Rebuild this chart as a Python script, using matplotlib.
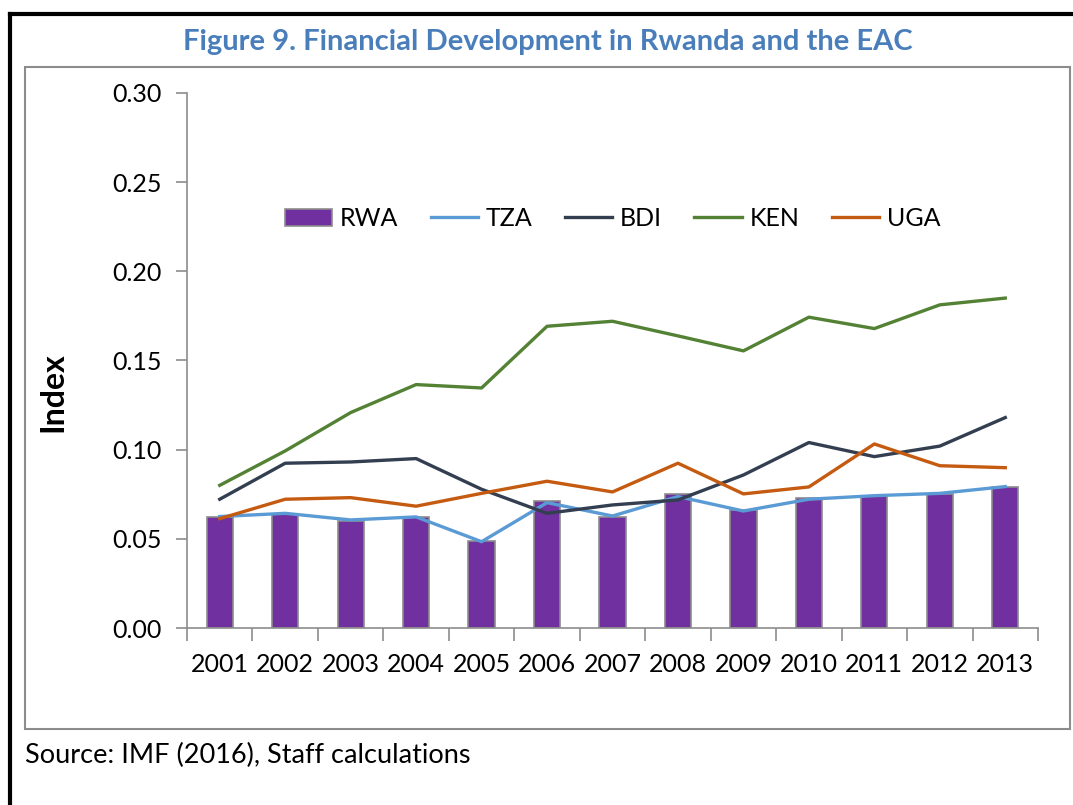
import matplotlib.pyplot as plt
import numpy as np
from matplotlib.patches import Rectangle
from matplotlib.lines import Line2D

plt.rcParams['font.family'] = ['Lato', 'DejaVu Sans']

# Data
years = ['2001', '2002', '2003', '2004', '2005', '2006', '2007',
         '2008', '2009', '2010', '2011', '2012', '2013']
rwa = [0.062, 0.064, 0.060, 0.062, 0.049, 0.071, 0.062, 0.075, 0.066, 0.073, 0.074, 0.075, 0.079]
tza = [0.0625, 0.0643, 0.0606, 0.0623, 0.0484, 0.0703, 0.0628, 0.0737, 0.0656, 0.0722, 0.0742, 0.0755, 0.0793]
bdi = [0.0722, 0.0924, 0.0931, 0.0950, 0.0778, 0.0643, 0.0690, 0.0718, 0.0858, 0.1040, 0.0961, 0.1020, 0.1180]
ken = [0.0800, 0.0993, 0.1208, 0.1365, 0.1346, 0.1692, 0.1720, 0.1638, 0.1554, 0.1743, 0.1679, 0.1812, 0.1850]
uga = [0.0613, 0.0722, 0.0731, 0.0683, 0.0755, 0.0823, 0.0763, 0.0924, 0.0752, 0.0791, 0.1032, 0.0910, 0.0899]

W, H = 1073, 805
fig = plt.figure(figsize=(W / 100, H / 100), dpi=100)

# outer black frame (left + top) and inner grey box
fig.add_artist(Line2D([10 / W, 10 / W], [0, 1 - 14 / H], color='black', lw=3, transform=fig.transFigure))
fig.add_artist(Line2D([10 / W, 1], [1 - 14 / H, 1 - 14 / H], color='black', lw=3, transform=fig.transFigure))
fig.add_artist(Rectangle((25 / W, 1 - 729 / H), (1070 - 25) / W, (729 - 67) / H, fill=False,
                         edgecolor='#8c8c8c', lw=1.5, transform=fig.transFigure))

ax = fig.add_axes([187 / W, 1 - 628 / H, (1038 - 187) / W, (628 - 93) / H])
x = np.arange(len(years))
b = ax.bar(x, rwa, width=0.4, color='#7030A0', edgecolor='#8c8c8c', linewidth=1.2, label='RWA', zorder=2)
l1, = ax.plot(x, tza, color='#5B9BD5', lw=2.4, label='TZA', zorder=3)
l2, = ax.plot(x, bdi, color='#333F50', lw=2.4, label='BDI', zorder=3)
l3, = ax.plot(x, ken, color='#548235', lw=2.4, label='KEN', zorder=3)
l4, = ax.plot(x, uga, color='#C55A11', lw=2.4, label='UGA', zorder=3)

ax.set_xlim(-0.5, len(years) - 0.5)
ax.set_ylim(0, 0.30)
ax.set_yticks(np.arange(0, 0.31, 0.05))
ax.set_yticklabels(['%.2f' % v for v in np.arange(0, 0.31, 0.05)])
ax.set_xticks(x)
ax.set_xticklabels(years)
ax.set_xticks(np.arange(-0.5, len(years)), minor=True)
ax.tick_params(axis='x', which='major', length=0, pad=18, labelsize=18)
ax.tick_params(axis='x', which='minor', length=9, width=1.2, color='#8c8c8c', direction='out')
ax.tick_params(axis='y', length=8, width=1.2, color='#8c8c8c', pad=10, labelsize=18)
for s in ['top', 'right']:
    ax.spines[s].set_visible(False)
for s in ['left', 'bottom']:
    ax.spines[s].set_color('#8c8c8c')
    ax.spines[s].set_linewidth(1.2)

ax.set_ylabel('Index', fontsize=23, fontweight='bold')
ax.yaxis.set_label_coords(-0.14, 0.44)

ax.legend([b, l1, l2, l3, l4], ['RWA', 'TZA', 'BDI', 'KEN', 'UGA'],
          loc='center', bbox_to_anchor=(0.5, 0.765), ncol=5, frameon=False,
          fontsize=18, handlelength=1.9, handletextpad=0.3, columnspacing=1.3)

fig.text(548 / W, 1 - 42 / H, 'Figure 9. Financial Development in Rwanda and the EAC',
         ha='center', va='center', fontsize=21, fontweight='bold', color='#4A7EBB')
fig.text(25 / W, 1 - 755 / H, 'Source: IMF (2016), Staff calculations',
         ha='left', va='center', fontsize=19.5)

fig.savefig('out.png', dpi=100)
